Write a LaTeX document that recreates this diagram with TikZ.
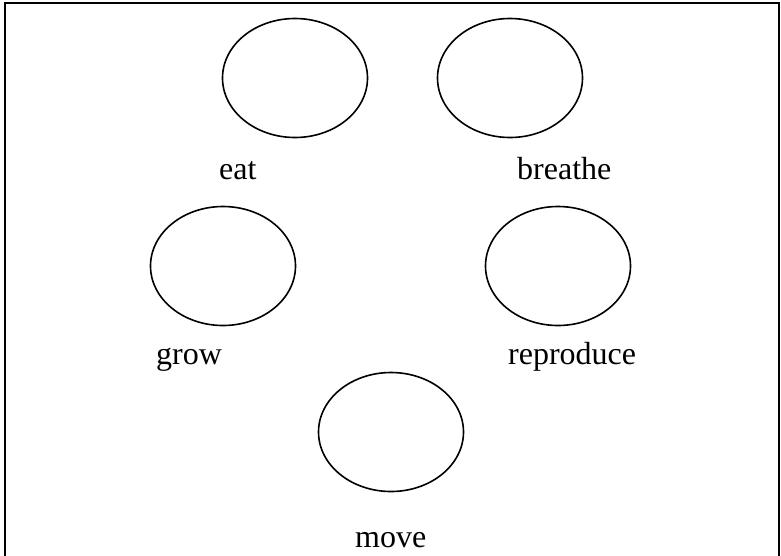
\documentclass[tikz,border=0pt]{standalone}
\usepackage{fontspec}
\setmainfont{Liberation Serif}
\usetikzlibrary{shapes.geometric}
\tikzset{
  blob/.style={draw=black, line width=1.6pt, ellipse, inner sep=0pt, minimum width=145pt, minimum height=119pt},
  lbl/.style={anchor=base west, inner sep=0pt, font=\fontsize{32}{37}\selectfont},
  frame/.style={draw=black, line width=2pt}
}
\begin{document}
\begin{tikzpicture}[x=1pt, y=-1pt]
\useasboundingbox (0,0) rectangle (781,555);
\clip (0,0) rectangle (781,555);
\coordinate (bl) at (5,570);
\coordinate (tl) at (5,3);
\coordinate (tr) at (779,3);
\coordinate (br) at (779,570);
\draw[frame] (bl) -- (tl) -- (tr) -- (br);
\node[blob] (eatE) at (295,78) {};
\node[blob] (breatheE) at (510,78) {};
\node[blob] (growE) at (223,266) {};
\node[blob] (reproE) at (558,266) {};
\node[blob] (moveE) at (391,432) {};
\node[lbl] (eatL) at (219,179) {eat};
\node[lbl] (breatheL) at (517,179) {breathe};
\node[lbl] (growL) at (156,364) {grow};
\node[lbl] (reproL) at (508,364) {reproduce};
\node[lbl] (moveL) at (355,547) {move};
\end{tikzpicture}
\end{document}
